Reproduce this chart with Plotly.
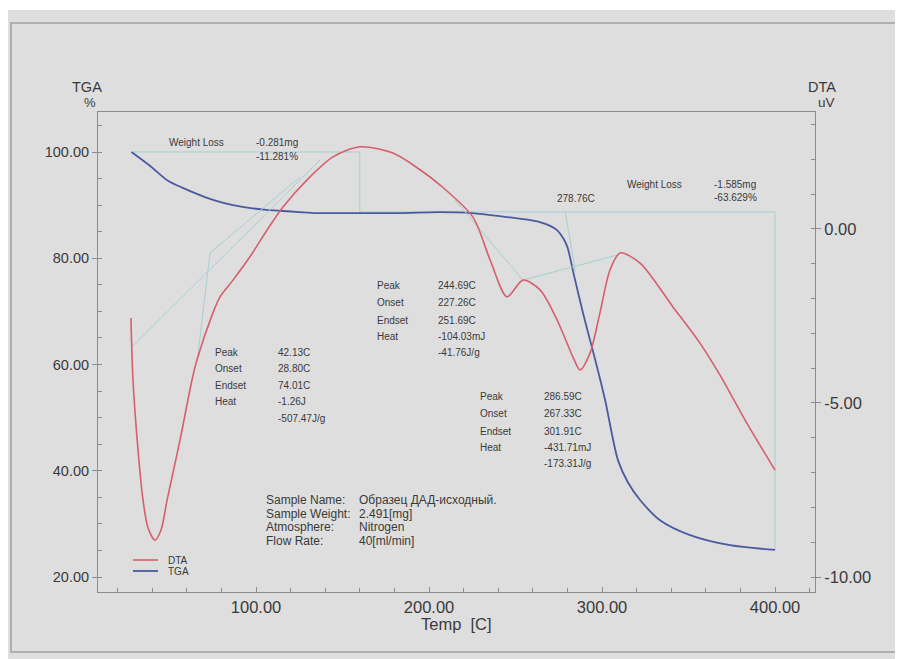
import plotly.graph_objects as go

# ---------------- data ----------------
tga_temp = [28.0, 38.7, 48.6, 58.0, 67.6, 77.0, 86.7, 96.0, 106.0, 115.6, 125.0, 135.0,
            150.0, 164.0, 183.0, 206.0, 225.0, 244.0, 256.0, 264.0, 270.0, 274.0, 277.5,
            280.0, 283.5, 289.0, 295.0, 299.0, 302.0, 309.2, 315.0, 322.0, 333.5, 350.9,
            374.0, 400.0]
tga_pct = [100.0, 97.4, 94.7, 93.2, 91.9, 90.8, 90.0, 89.5, 89.1, 88.9, 88.7, 88.5,
           88.5, 88.5, 88.5, 88.7, 88.5, 87.8, 87.3, 86.8, 86.1, 85.3, 83.8,
           82.1, 77.2, 69.7, 62.2, 57.1, 53.0, 42.0, 37.8, 34.5, 30.7, 27.9,
           26.0, 25.1]

dta_temp = [27.7, 28.9, 31.8, 34.7, 37.6, 41.6, 45.1, 48.6, 56.1, 63.0, 65.9, 75.1, 79.2,
            86.7, 96.5, 106.4, 115.6, 129.5, 144.5, 160.1, 179.2, 194.8, 206.4, 225.4,
            235.3, 245.1, 254.3, 264.2, 274.0, 283.2, 287.3, 293.1, 298.8, 304.6, 310.4,
            322.0, 341.0, 356.6, 368.2, 382.7, 400.0]
dta_uv = [-2.56, -4.34, -6.35, -7.79, -8.59, -8.94, -8.65, -7.79, -6.06, -4.34, -3.76, -2.41,
          -1.95, -1.47, -0.80, -0.03, 0.63, 1.41, 2.07, 2.36, 2.18, 1.70, 1.26, 0.34,
          -0.89, -1.95, -1.47, -1.75, -2.61, -3.68, -4.05, -3.56, -2.41, -1.18, -0.69,
          -0.98, -2.24, -3.28, -4.20, -5.49, -6.93]

# weight-loss construction lines (TGA scale)
step_temp = [28.5, 160.0, 160.0, 400.0, 400.0]
step_tga = [100.0, 100.0, 88.72, 88.72, 25.09]
onset_temp = [278.76, 284.6]
onset_tga = [88.72, 77.5]

# DTA tangent construction lines (DTA scale)
tan1_temp = [28.3, 137.0]
tan1_uv = [-3.39, 1.98]
tan2_temp = [66.0, 73.4, 125.4]
tan2_uv = [-3.80, -0.69, 1.49]
tan3_temp = [215.0, 254.3, 308.7]
tan3_uv = [0.83, -1.47, -0.75]

x_ticks = [100, 200, 300, 400]
tga_ticks = [20, 40, 60, 80, 100]
dta_ticks = [-10, -5, 0]

# ---------------- layout geometry ----------------
# page body has an 8px margin; plot area in window pixels: x 98..815, y 112..592
OFF = 8
W, H = 903 - OFF, 659 - OFF
PL, PR, PT, PB = 98, 815, 112, 592
ML, MR, MT, MB = PL - OFF, W - (PR - OFF), PT - OFF, H - (PB - OFF)
PW, PH = PR - PL, PB - PT

def px(x):
    return (x - PL) / PW

def py(y):
    return (PB - y) / PH

BG = "#dedede"
TXT = "#3a3a3a"
AX = "#8c8c8c"
RED = "#d65f6c"
BLUE = "#4b5a9f"
CYAN = "#a6cfd3"
FONT = "Liberation Sans, Arial, sans-serif"

fig = go.Figure()

# construction lines
fig.add_trace(go.Scatter(x=step_temp, y=step_tga, mode="lines",
                         line=dict(color=CYAN, width=1), hoverinfo="skip"))
fig.add_trace(go.Scatter(x=onset_temp, y=onset_tga, mode="lines",
                         line=dict(color=CYAN, width=1), hoverinfo="skip"))
for tx, ty in [(tan1_temp, tan1_uv), (tan2_temp, tan2_uv), (tan3_temp, tan3_uv)]:
    fig.add_trace(go.Scatter(x=tx, y=ty, mode="lines", yaxis="y2",
                             line=dict(color=CYAN, width=1), hoverinfo="skip"))

# curves
fig.add_trace(go.Scatter(x=dta_temp, y=dta_uv, mode="lines", name="DTA", yaxis="y2",
                         line=dict(color=RED, width=1.6, shape="spline", smoothing=0.8)))
fig.add_trace(go.Scatter(x=tga_temp, y=tga_pct, mode="lines", name="TGA",
                         line=dict(color=BLUE, width=1.8, shape="spline", smoothing=0.8)))

ann = []

def txt(x, y, s, size=10, xanchor="left"):
    ann.append(dict(x=px(x), y=py(y), xref="paper", yref="paper", text=s,
                    showarrow=False, xanchor=xanchor, yanchor="middle",
                    font=dict(family=FONT, size=size, color=TXT)))

# weight loss texts
txt(167, 142, "Weight Loss")
txt(254, 142, "-0.281mg")
txt(254, 156, "-11.281%")
txt(555, 198, "278.76C")
txt(625, 184, "Weight Loss")
txt(712, 184, "-1.585mg")
txt(712, 197, "-63.629%")

# peak blocks
labels = ["Peak", "Onset", "Endset", "Heat"]
blocks = [
    (213, 276, [352, 368, 385, 401, 418], ["42.13C", "28.80C", "74.01C", "-1.26J", "-507.47J/g"]),
    (375, 436, [285, 302, 320, 336, 352], ["244.69C", "227.26C", "251.69C", "-104.03mJ", "-41.76J/g"]),
    (478, 542, [396, 413, 431, 447, 463], ["286.59C", "267.33C", "301.91C", "-431.71mJ", "-173.31J/g"]),
]
for lx, vx, ys, vals in blocks:
    for i, lab in enumerate(labels):
        txt(lx, ys[i], lab)
    for i, v in enumerate(vals):
        txt(vx, ys[i], v)

# sample info
info_labels = ["Sample Name:", "Sample Weight:", "Atmosphere:", "Flow Rate:"]
info_values = ["Образец ДАД-исходный.", "2.491[mg]", "Nitrogen", "40[ml/min]"]
for i, (a, b) in enumerate(zip(info_labels, info_values)):
    yy = 500 + i * 13.7
    txt(264, yy, a, size=12)
    txt(357, yy, b, size=12)

# legend
txt(166, 560, "DTA", size=10)
txt(166, 571, "TGA", size=10)

# axis titles
txt(87, 87, "TGA", size=14.5, xanchor="center")
txt(90, 103, "%", size=13, xanchor="center")
txt(822, 87, "DTA", size=14.5, xanchor="center")
txt(826, 103, "uV", size=13.5, xanchor="center")
txt(456, 624, "Temp  [C]", size=16.5, xanchor="center")

shapes = [
    # white scan edge at the top
    dict(type="rect", xref="paper", yref="paper", x0=px(0), x1=px(910), y0=py(10), y1=py(0),
         fillcolor="white", line=dict(width=0), layer="below"),
    # inner frame of the scanned sheet
    dict(type="rect", xref="paper", yref="paper", x0=px(11), x1=px(901), y0=py(652), y1=py(23),
         fillcolor="rgba(0,0,0,0)", line=dict(color="#a0a0a0", width=1.5), layer="below"),
    # legend swatches
    dict(type="line", xref="paper", yref="paper", x0=px(133), x1=px(158), y0=py(560), y1=py(560),
         line=dict(color=RED, width=1.6)),
    dict(type="line", xref="paper", yref="paper", x0=px(133), x1=px(158), y0=py(571), y1=py(571),
         line=dict(color=BLUE, width=1.8)),
]

axis_common = dict(showgrid=False, zeroline=False, showline=True, linecolor=AX, linewidth=1,
                   tickcolor=AX)

fig.update_layout(
    width=W, height=H, autosize=False,
    margin=dict(l=ML, r=MR, t=MT, b=MB, pad=0),
    paper_bgcolor=BG, plot_bgcolor=BG,
    showlegend=False,
    font=dict(family=FONT, color=TXT),
    xaxis=dict(range=[8.67, 423.1], tickvals=x_ticks, ticktext=[f"{v:.2f}" for v in x_ticks],
               ticks="inside", ticklen=5, mirror=True,
               tickfont=dict(size=16.5, color=TXT, family=FONT),
               minor=dict(dtick=20, tick0=0, ticks="inside", ticklen=4, tickcolor=AX),
               **axis_common),
    yaxis=dict(range=[17.18, 107.53], tickvals=tga_ticks, ticktext=[f"{v:.2f}" for v in tga_ticks],
               ticks="outside", ticklen=5,
               tickfont=dict(size=14.5, color=TXT, family=FONT),
               minor=dict(dtick=5, tick0=0, ticks="inside", ticklen=4, tickcolor=AX),
               **axis_common),
    yaxis2=dict(range=[-10.43, 3.36], tickvals=dta_ticks, ticktext=[f"{v:.2f}" for v in dta_ticks],
                ticks="outside", ticklen=5,
                overlaying="y", side="right",
                tickfont=dict(size=16.5, color=TXT, family=FONT),
                minor=dict(dtick=1, tick0=0, ticks="inside", ticklen=4, tickcolor=AX),
                **axis_common),
    annotations=ann,
    shapes=shapes,
)

fig.write_html("out.html")
